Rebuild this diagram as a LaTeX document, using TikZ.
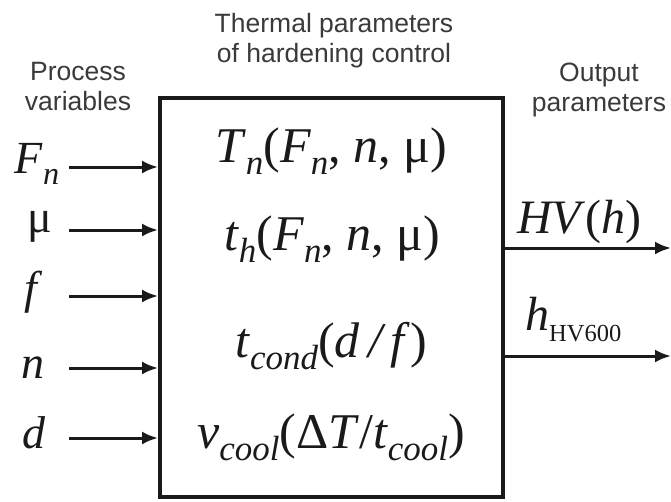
\documentclass[tikz,border=0pt]{standalone}
\usepackage{fontspec}
\usepackage{graphicx}
\setmainfont{Liberation Serif}
\newfontfamily\labfont{Liberation Sans}
\usetikzlibrary{arrows.meta}
\definecolor{ink}{HTML}{1A1A1A}
\definecolor{labgray}{HTML}{3A3A3A}
\newcommand{\lowsub}[1]{\raisebox{-0.24em}{\scalebox{0.7}{#1}}}
\tikzset{
  toplabel/.style={font=\labfont\fontsize{26.5}{30}\selectfont, text=labgray, align=center, inner sep=0pt, anchor=north},
  inlabel/.style={font=\fontsize{46}{50}\selectfont, text=ink, inner sep=0pt, anchor=base},
  boxtext/.style={font=\fontsize{50}{55}\selectfont, text=ink, inner sep=0pt, anchor=base},
  outlabel/.style={font=\fontsize{48}{52}\selectfont, text=ink, inner sep=0pt, anchor=base west},
  flow/.style={line width=3pt, draw=ink, -{Latex[length=16pt,width=13pt]}},
  mainbox/.style={draw=ink, line width=3.8pt, minimum width=343pt, minimum height=399pt, inner sep=0pt}
}
\begin{document}
\begin{tikzpicture}[x=1pt,y=-1pt]
\useasboundingbox (0,0) rectangle (671,501);
% headings
\node[toplabel] (thermal) at (334,13) {Thermal parameters\\of hardening control};
\node[toplabel] (process) at (78,62) {Process\\variables};
\node[toplabel] (output) at (599,63) {Output\\parameters};
% main box
\node[mainbox] (box) at (331.5,297.5) {};
% box contents
\node[boxtext] (tn) at (331,162) {\textit{T}\lowsub{\textit{n}}(\textit{F}\lowsub{\textit{n}}, \textit{n}, μ)};
\node[boxtext] (th) at (332,250) {\textit{t}\lowsub{\textit{h}}(\textit{F}\lowsub{\textit{n}}, \textit{n}, μ)};
\node[boxtext] (tc) at (331,357) {\textit{t}\lowsub{\textit{cond}}(\textit{d\,/\,f})};
\node[boxtext] (vc) at (331,448) {\textit{v}\lowsub{\textit{cool}}(Δ\textit{T}/\textit{t}\lowsub{\textit{cool}})};
% input labels
\node[inlabel] (lF) at (37,173) {\textit{F}\lowsub{\textit{n}}};
\node[inlabel] (lmu) at (40,232) {μ};
\node[inlabel] (lf) at (34,303) {\textit{f}};
\node[inlabel] (ln) at (33,378) {\textit{n}};
\node[inlabel] (ld) at (34,448) {\textit{d}};
% input arrow tails
\coordinate (iF) at (69,167);
\coordinate (imu) at (69,230);
\coordinate (if) at (69,296);
\coordinate (in) at (69,368);
\coordinate (id) at (69,438);
\draw[flow] (iF) -- (iF -| box.west);
\draw[flow] (imu) -- (imu -| box.west);
\draw[flow] (if) -- (if -| box.west);
\draw[flow] (in) -- (in -| box.west);
\draw[flow] (id) -- (id -| box.west);
% outputs
\node[outlabel] (hv) at (517,233) {\textit{HV}(\textit{h})};
\node[outlabel] (h600) at (525,330) {\textit{h}\lowsub{\fontsize{35}{35}\selectfont HV600}};
\coordinate (o1) at (671,248);
\coordinate (o2) at (671,356);
\draw[flow] (o1 -| box.east) -- (o1);
\draw[flow] (o2 -| box.east) -- (o2);
\end{tikzpicture}
\end{document}
